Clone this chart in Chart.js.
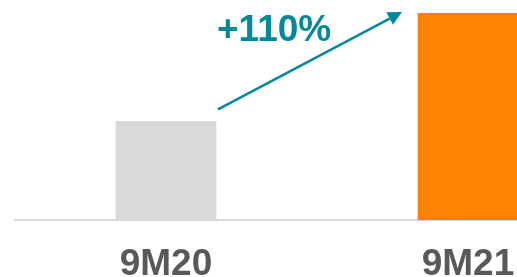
<!DOCTYPE html>
<html><head><meta charset="utf-8">
<script src="https://cdn.jsdelivr.net/npm/chart.js@4/dist/chart.umd.min.js"></script>
<style>html,body{margin:0;padding:0;overflow:hidden;background:#fff;width:517px;height:277px}canvas{display:block}</style>
</head><body>
<canvas id="c" width="620" height="277"></canvas>
<script>
const categories = ["9M20", "9M21"];
const values = [100, 210];
const barColors = ["#d9d9d9", "#ff8200"];
const growthLabel = "+" + Math.round((values[1] / values[0] - 1) * 100) + "%";

const arrowPlugin = {
  id: 'arrow',
  afterDatasetsDraw(chart) {
    const bars = chart.getDatasetMeta(0).data;
    const a = bars[0], b = bars[1];
    const x1 = a.x + a.width / 2 + 2, y1 = a.y - 12;
    const x2 = b.x - b.width / 2 - 16, y2 = b.y - 1;
    const ctx = chart.ctx;
    ctx.save();
    ctx.strokeStyle = '#05889a';
    ctx.fillStyle = '#05889a';
    ctx.lineWidth = 2.5;
    const ang = Math.atan2(y2 - y1, x2 - x1);
    const hl = 14, hw = 7;
    const bx = x2 - hl * Math.cos(ang), by = y2 - hl * Math.sin(ang);
    ctx.beginPath(); ctx.moveTo(x1, y1); ctx.lineTo(bx, by); ctx.stroke();
    ctx.beginPath();
    ctx.moveTo(x2, y2);
    ctx.lineTo(bx + hw * Math.sin(ang), by - hw * Math.cos(ang));
    ctx.lineTo(bx - hw * Math.sin(ang), by + hw * Math.cos(ang));
    ctx.closePath(); ctx.fill();
    ctx.font = 'bold 37px "Liberation Sans", Arial, sans-serif';
    ctx.textAlign = 'left';
    ctx.textBaseline = 'alphabetic';
    ctx.fillText(growthLabel, x1 - 1, b.y + 28);
    ctx.restore();
  }
};

new Chart(document.getElementById('c'), {
  type: 'bar',
  data: { labels: categories, datasets: [{ data: values, backgroundColor: barColors, barThickness: 100 }] },
  options: {
    responsive: false, animation: false,
    layout: { padding: { left: 15, right: 1, top: 13, bottom: -32 } },
    plugins: { legend: { display: false }, tooltip: { enabled: false } },
    scales: {
      x: {
        grid: { display: false, drawTicks: false },
        border: { display: true, color: '#d9d9d9', width: 2 },
        ticks: { color: '#595959', padding: 26, font: { family: '"Liberation Sans", Arial, sans-serif', size: 37, weight: 'bold', lineHeight: 1 } }
      },
      y: { display: false, min: 0, max: 210 }
    }
  },
  plugins: [arrowPlugin]
});
</script>
</body></html>
